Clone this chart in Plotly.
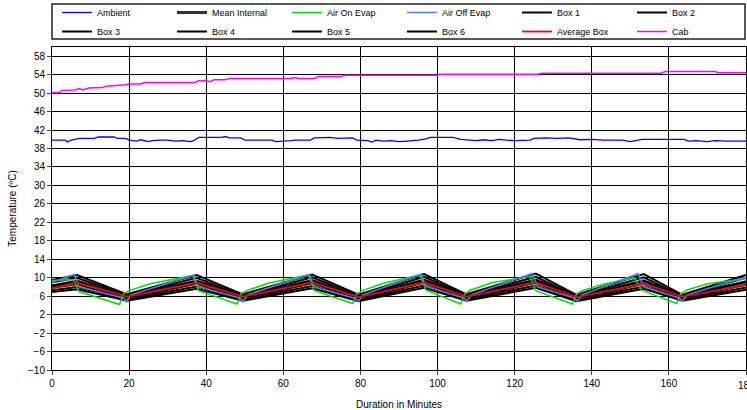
import plotly.graph_objects as go

# ---------------- data ----------------
box_t = [0, 6.5, 19.5, 37.5, 49.5, 67.5, 79.5, 96.5, 107.5, 125.5, 136, 153.5, 163.5, 180]
box1 = [9.5, 10.6, 6.4, 10.6, 6.4, 10.7, 6.3, 10.8, 6.4, 10.9, 6.3, 10.8, 6.3, 10.6]
box2 = [9.0, 10.0, 6.1, 10.0, 6.1, 10.1, 6.0, 10.2, 6.1, 10.2, 6.0, 10.1, 6.0, 10.0]
box3 = [8.3, 9.2, 5.8, 9.3, 5.8, 9.4, 5.7, 9.5, 5.8, 9.5, 5.7, 9.3, 5.8, 9.2]
box4 = [7.8, 8.6, 5.5, 8.7, 5.5, 8.8, 5.4, 8.9, 5.5, 8.9, 5.4, 8.7, 5.5, 8.5]
box5 = [7.3, 8.0, 5.3, 8.1, 5.3, 8.2, 5.2, 8.3, 5.3, 8.3, 5.2, 8.1, 5.3, 7.9]
box6 = [6.9, 7.5, 5.0, 7.6, 5.0, 7.7, 4.9, 7.8, 5.0, 7.8, 4.9, 7.6, 5.0, 7.4]
mean_internal = [8.2, 9.3, 6.0, 9.3, 6.0, 9.4, 5.9, 9.5, 6.0, 9.5, 5.9, 9.3, 6.0, 9.1]
average_box = [7.7, 8.9, 5.9, 8.9, 5.9, 9.0, 5.8, 9.0, 5.9, 9.0, 5.8, 8.7, 5.9, 8.4]

air_on_t = [0, 5.5, 7, 17.5, 18.5, 20, 25.5, 36.5, 38, 48, 49, 50.5, 56, 66.5, 68, 78, 79, 80.5, 86,
            95.5, 97, 106, 107, 108.5, 114, 124, 125.5, 135, 136, 137.5, 143, 151, 153, 162, 163,
            164.5, 170, 180]
air_on = [9.4, 9.6, 7.0, 4.2, 6.5, 7.2, 8.7, 10.5, 7.2, 4.3, 6.5, 7.2, 8.8, 10.6, 7.2, 4.4, 6.5,
          7.2, 8.8, 10.6, 7.3, 4.3, 6.4, 7.3, 8.9, 10.3, 7.2, 4.3, 6.4, 7.2, 8.6, 10.0, 7.3, 4.4,
          6.4, 7.3, 8.7, 9.8]

air_off_t = [0, 5.8, 7, 18.5, 19.3, 20.5, 36.8, 38, 48.7, 49.5, 50.7, 66.7, 68, 78.7, 79.5, 80.7,
             95.7, 97, 106.8, 107.6, 108.8, 124.5, 126, 135.5, 136.3, 137.5, 152, 153.5, 162.7, 163.5, 164.7, 180]
air_off = [9.0, 10.7, 8.0, 5.6, 4.8, 6.3, 10.6, 8.0, 5.6, 4.8, 6.3, 10.7, 8.0, 5.5, 4.9, 6.3,
           10.8, 8.1, 5.6, 4.9, 6.3, 10.9, 8.0, 5.6, 4.9, 6.3, 10.9, 8.0, 5.6, 4.9, 6.3, 10.1]

ambient_t = [0, 3.5, 4, 5, 6, 7, 11, 12, 16, 17, 19, 20, 22, 23, 25, 26, 28, 30, 32, 34, 36, 37, 38,
             44, 45, 46, 49, 50, 57, 58, 62, 63, 67, 68, 72, 74, 78, 79, 82, 83, 84, 86, 88, 90, 92,
             95, 97, 98, 104, 106, 110, 112, 114, 116, 118, 120, 124, 125, 128, 131, 134, 137, 140,
             143, 148, 150, 152, 153, 164, 165, 167, 170, 172, 175, 180]
ambient = [39.8, 39.8, 39.4, 39.8, 40.0, 40.2, 40.2, 40.5, 40.5, 40.2, 40.2, 39.8, 39.6, 39.9, 39.5,
           39.7, 39.8, 39.8, 39.6, 39.7, 39.5, 39.8, 40.4, 40.4, 40.6, 40.3, 40.3, 39.8, 39.8, 39.5,
           39.7, 39.8, 39.8, 40.3, 40.4, 40.2, 40.3, 39.8, 39.7, 39.4, 39.8, 39.6, 39.7, 39.5, 39.6,
           39.8, 40.1, 40.4, 40.4, 40.0, 39.7, 39.9, 39.7, 40.0, 39.8, 39.7, 39.8, 40.2, 40.3, 40.2,
           40.3, 39.9, 40.0, 39.8, 39.8, 39.5, 39.8, 40.0, 40.0, 39.6, 39.7, 39.5, 39.7, 39.6, 39.6]

cab_t = [0, 2, 2.5, 6, 7, 8, 9.5, 13, 14, 17, 19, 20, 23, 24, 37, 38, 40, 41, 42, 45, 46, 62, 63,
         64, 68, 69, 75, 76, 100, 100.5, 126, 127, 158, 159, 172, 173, 180]
cab = [50.1, 50.2, 50.6, 50.7, 51.0, 50.7, 51.1, 51.2, 51.5, 51.6, 51.8, 52.0, 52.0, 52.3, 52.3,
       52.7, 52.7, 52.5, 52.9, 52.9, 53.2, 53.2, 53.4, 53.2, 53.2, 53.6, 53.6, 53.9, 53.9, 54.1,
       54.1, 54.3, 54.3, 54.7, 54.7, 54.4, 54.4]

x_ticks = [0, 20, 40, 60, 80, 100, 120, 140, 160, 180]
y_ticks = [-10, -6, -2, 2, 6, 10, 14, 18, 22, 26, 30, 34, 38, 42, 46, 50, 54, 58]

# ---------------- figure ----------------
W, H = 747, 410
ML, MR, MT, MB = 52, 1, 47, 40
PW, PH = W - ML - MR, H - MT - MB

fig = go.Figure()

def add(name, t, v, color, width=1.5):
    fig.add_trace(go.Scatter(x=t, y=v, name=name, mode="lines",
                             line=dict(color=color, width=width)))

add("Ambient", ambient_t, ambient, "#0000FF", 1.3)
add("Mean Internal", box_t, mean_internal, "#333333", 3)
add("Box 1", box_t, box1, "#000000", 2)
add("Box 2", box_t, box2, "#000000", 2)
add("Box 3", box_t, box3, "#000000", 2)
add("Box 4", box_t, box4, "#000000", 2)
add("Box 5", box_t, box5, "#000000", 2)
add("Box 6", box_t, box6, "#000000", 2)
add("Air On Evap", air_on_t, air_on, "#00E000", 1.5)
add("Air Off Evap", air_off_t, air_off, "#4F81FF", 1.5)
add("Average Box", box_t, average_box, "#FF0000", 1.8)
add("Cab", cab_t, cab, "#FF00FF", 1.5)

legend_order = ["Ambient", "Mean Internal", "Air On Evap", "Air Off Evap", "Box 1", "Box 2",
                "Box 3", "Box 4", "Box 5", "Box 6", "Average Box", "Cab"]
for tr in fig.data:
    tr.legendrank = legend_order.index(tr.name) + 1

font_family = "Liberation Sans, Arial, sans-serif"

# legend frame (drawn as a shape so it can be tighter than plotly's own legend box)
fig.add_shape(type="rect", xref="paper", yref="paper",
              x0=0, x1=(745 - ML) / PW, y0=1 + (MT - 39) / PH, y1=1 + (MT - 4) / PH,
              line=dict(color="#222222", width=1.5), fillcolor="rgba(0,0,0,0)")

# last x tick label sits on the page edge (plotly hides it), so add it as text
fig.add_annotation(x=x_ticks[-1], xref="x", y=-15 / PH, yref="paper",
                   text=str(x_ticks[-1]), showarrow=False, xanchor="center", yanchor="middle",
                   font=dict(size=10, color="black"))

fig.update_layout(
    width=W, height=H,
    margin=dict(l=ML, r=MR, t=MT, b=MB, autoexpand=False),
    paper_bgcolor="white", plot_bgcolor="white",
    font=dict(family=font_family, size=10, color="black"),
    showlegend=True,
    legend=dict(orientation="h", x=5 / PW, xanchor="left", y=1 + (MT + 2) / PH, yanchor="top",
                borderwidth=0, bgcolor="rgba(0,0,0,0)",
                entrywidth=70, entrywidthmode="pixels",
                font=dict(size=9), tracegroupgap=0, itemwidth=30),
    xaxis=dict(range=[0, 180], tickvals=x_ticks, ticks="outside", ticklen=4,
               showgrid=True, gridcolor="#000000", gridwidth=1,
               showline=True, linecolor="#000000", linewidth=1, mirror=True,
               zeroline=False,
               title=dict(text="Duration in Minutes", font=dict(size=10), standoff=12)),
    yaxis=dict(range=[-10, 60], tickvals=y_ticks, ticks="outside", ticklen=4,
               showgrid=True, gridcolor="#000000", gridwidth=1,
               showline=True, linecolor="#000000", linewidth=1, mirror=True,
               zeroline=False,
               title=dict(text="Temperature (ºC)", font=dict(size=10), standoff=9)),
)

fig.write_html("out.html")
